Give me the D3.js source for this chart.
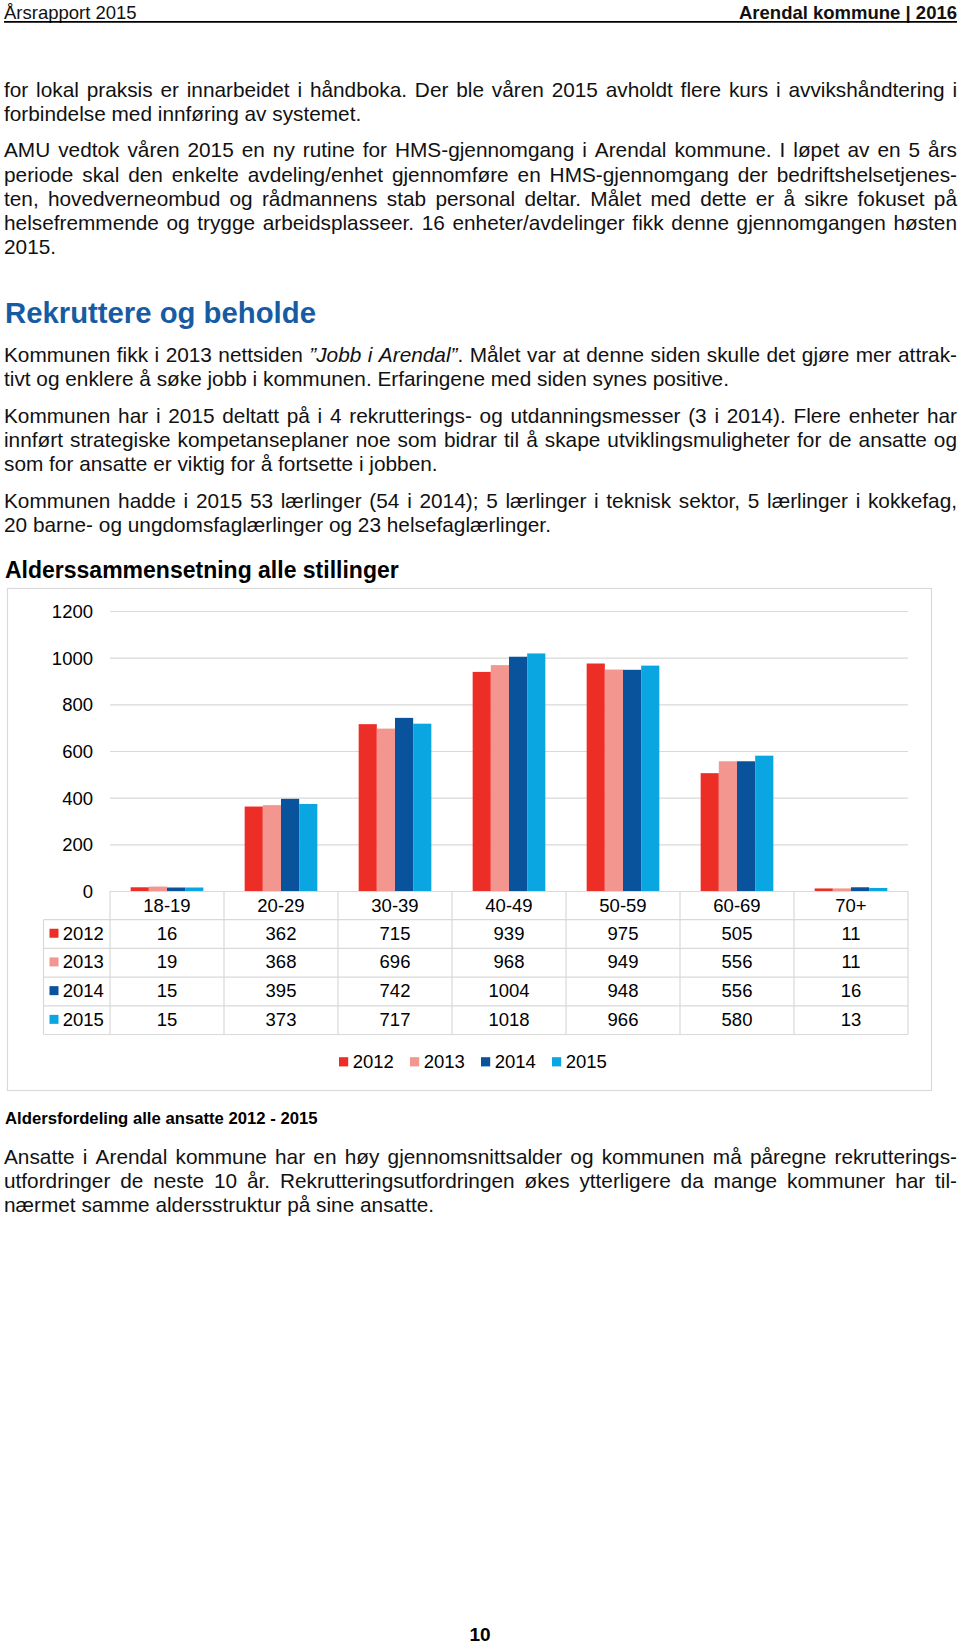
<!DOCTYPE html>
<html>
<head>
<meta charset="utf-8">
<script src="https://cdn.jsdelivr.net/npm/d3@7"></script>
<style>
  html, body { margin: 0; padding: 0; background: #fff; }
  svg { display: block; font-family: "Liberation Sans", Arial, Helvetica, sans-serif; }
</style>
</head>
<body>
<div id="page"></div>
<script>
// ---------- DATA ----------
const categories = ["18-19", "20-29", "30-39", "40-49", "50-59", "60-69", "70+"];
const years = ["2012", "2013", "2014", "2015"];
const v2012 = [16, 362, 715, 939, 975, 505, 11];
const v2013 = [19, 368, 696, 968, 949, 556, 11];
const v2014 = [15, 395, 742, 1004, 948, 556, 16];
const v2015 = [15, 373, 717, 1018, 966, 580, 13];
const yTicks = [0, 200, 400, 600, 800, 1000, 1200];
const yearColors = ["#ec2e26", "#f3968f", "#08539c", "#0aa6e2"];

const chartTitle = "Alderssammensetning alle stillinger";
const caption = "Aldersfordeling alle ansatte 2012 - 2015";
const headerLeft = "Årsrapport 2015";
const headerRight = "Arendal kommune | 2016";
const heading = "Rekruttere og beholde";
const pageNumber = "10";

// text lines: [text, justified?]  (*...* = italic)
const para1 = [
  ["for lokal praksis er innarbeidet i håndboka. Der ble våren 2015 avholdt flere kurs i avvikshåndtering i", true],
  ["forbindelse med innføring av systemet.", false]
];
const para2 = [
  ["AMU vedtok våren 2015 en ny rutine for HMS-gjennomgang i Arendal kommune. I løpet av en 5 års", true],
  ["periode skal den enkelte avdeling/enhet gjennomføre en HMS-gjennomgang der bedriftshelsetjenes-", true],
  ["ten, hovedverneombud og rådmannens stab personal deltar. Målet med dette er å sikre fokuset på", true],
  ["helsefremmende og trygge arbeidsplasseer. 16 enheter/avdelinger fikk denne gjennomgangen høsten", true],
  ["2015.", false]
];
const para3 = [
  ["Kommunen fikk i 2013 nettsiden *”Jobb i Arendal”*. Målet var at denne siden skulle det gjøre mer attrak-", true],
  ["tivt og enklere å søke jobb i kommunen. Erfaringene med siden synes positive.", false]
];
const para4 = [
  ["Kommunen har i 2015 deltatt på i 4 rekrutterings- og utdanningsmesser (3 i 2014). Flere enheter har", true],
  ["innført strategiske kompetanseplaner noe som bidrar til å skape utviklingsmuligheter for de ansatte og", true],
  ["som for ansatte er viktig for å fortsette i jobben.", false]
];
const para5 = [
  ["Kommunen hadde i 2015 53 lærlinger (54 i 2014); 5 lærlinger i teknisk sektor, 5 lærlinger i kokkefag,", true],
  ["20 barne- og ungdomsfaglærlinger og 23 helsefaglærlinger.", false]
];
const para6 = [
  ["Ansatte i Arendal kommune har en høy gjennomsnittsalder og kommunen må påregne rekrutterings-", true],
  ["utfordringer de neste 10 år. Rekrutteringsutfordringen økes ytterligere da mange kommuner har til-", true],
  ["nærmet samme aldersstruktur på sine ansatte.", false]
];

// ---------- LAYOUT ----------
const W = 960, H = 1645;
const svg = d3.select("#page").append("svg").attr("width", W).attr("height", H);
svg.append("rect").attr("width", W).attr("height", H).attr("fill", "#fff");

const textLeft = 4, textRight = 957;
const bodySize = 20.8, lineH = 24.1;
const textColor = "#111";

// header
svg.append("text").attr("x", textLeft).attr("y", 19).attr("font-size", 18.5).attr("fill", textColor).text(headerLeft);
svg.append("text").attr("x", textRight).attr("y", 19).attr("text-anchor", "end").attr("font-size", 18.5)
  .attr("font-weight", "bold").attr("fill", textColor).text(headerRight);
svg.append("line").attr("x1", textLeft).attr("x2", textRight).attr("y1", 21.8).attr("y2", 21.8)
  .attr("stroke", "#000").attr("stroke-width", 1.8);

function parseWords(line) {
  let italic = false;
  return line.split(" ").map(w => {
    const pieces = []; let buf = "";
    for (const ch of w) {
      if (ch === "*") { if (buf) pieces.push({ t: buf, it: italic }); buf = ""; italic = !italic; }
      else buf += ch;
    }
    if (buf) pieces.push({ t: buf, it: italic });
    return pieces;
  });
}

function drawLine(line, justify, y, size) {
  const g = svg.append("g");
  const words = parseWords(line);
  const nodes = words.map(pieces => {
    const t = g.append("text").attr("y", y).attr("font-size", size).attr("fill", textColor);
    pieces.forEach(p => t.append("tspan").attr("font-style", p.it ? "italic" : "normal").text(p.t));
    return t;
  });
  const widths = nodes.map(t => t.node().getComputedTextLength());
  const total = d3.sum(widths);
  const gap = (justify && nodes.length > 1) ? (textRight - textLeft - total) / (nodes.length - 1) : size * 0.278;
  let x = textLeft;
  nodes.forEach((t, i) => { t.attr("x", x); x += widths[i] + gap; });
}

function drawPara(lines, firstBaseline) {
  lines.forEach((l, i) => drawLine(l[0], l[1], firstBaseline + i * lineH, bodySize));
}

drawPara(para1, 96.6);
drawPara(para2, 157.4);
svg.append("text").attr("x", 5).attr("y", 323.3).attr("font-size", 29.3).attr("font-weight", "bold")
  .attr("fill", "#175ca3").text(heading);
drawPara(para3, 361.6);
drawPara(para4, 422.6);
drawPara(para5, 507.6);

// ---------- CHART ----------
svg.append("text").attr("x", 5).attr("y", 578).attr("font-size", 23).attr("font-weight", "bold")
  .attr("fill", "#000").text(chartTitle);

const box = { left: 7.5, top: 588.5, right: 931.5, bottom: 1090.5 };
svg.append("rect").attr("x", box.left).attr("y", box.top)
  .attr("width", box.right - box.left).attr("height", box.bottom - box.top)
  .attr("fill", "#fff").attr("stroke", "#d9d9d9").attr("stroke-width", 1.2);

const plotL = 110, plotR = 908, plotT = 611, plotB = 891;
const chartFont = 18.5;
const gridColor = "#d9d9d9";

const x0 = d3.scaleBand().domain(categories).range([plotL, plotR]).paddingInner(0).paddingOuter(0);
const x1 = d3.scaleBand().domain(years).range([0, x0.bandwidth()]).paddingInner(0).paddingOuter(1.137);
const y = d3.scaleLinear().domain([0, 1200]).range([plotB, plotT]);
const color = d3.scaleOrdinal().domain(years).range(yearColors);
const seriesValues = [v2012, v2013, v2014, v2015];

// gridlines
const grid = svg.append("g").attr("transform", `translate(${plotL},0)`)
  .call(d3.axisLeft(y).tickValues(yTicks).tickSize(-(plotR - plotL)).tickFormat(""));
grid.select(".domain").remove();
grid.selectAll(".tick line").attr("stroke", gridColor).attr("stroke-width", 1.2);

// y labels
const yAxis = svg.append("g").attr("transform", `translate(${plotL},0)`)
  .call(d3.axisLeft(y).tickValues(yTicks).tickSize(0).tickPadding(17).tickFormat(d3.format("d")));
yAxis.select(".domain").remove();
yAxis.selectAll("text").attr("font-size", chartFont).attr("font-family", "Liberation Sans, Arial, sans-serif")
  .attr("fill", "#000").attr("dy", "0.35em");

// bars
const flat = [];
years.forEach((yr, si) => categories.forEach((c, ci) => flat.push({ year: yr, cat: c, v: seriesValues[si][ci] })));
svg.append("g").selectAll("rect").data(flat).join("rect")
  .attr("x", d => x0(d.cat) + x1(d.year))
  .attr("width", x1.bandwidth())
  .attr("y", d => y(d.v))
  .attr("height", d => y(0) - y(d.v))
  .attr("fill", d => color(d.year));

// data table
const rowH = 28.7;
const tableTop = y(0);
const tableLeft = 43.5;
const tableBottom = tableTop + rowH * 5;
const tg = svg.append("g");
// horizontal lines (rows)
for (let r = 1; r <= 5; r++) {
  tg.append("line").attr("x1", tableLeft).attr("x2", plotR)
    .attr("y1", tableTop + r * rowH).attr("y2", tableTop + r * rowH)
    .attr("stroke", gridColor).attr("stroke-width", 1.2);
}
// vertical lines
const vxs = categories.map(c => x0(c)).concat([plotR]);
vxs.forEach(vx => tg.append("line").attr("x1", vx).attr("x2", vx).attr("y1", tableTop).attr("y2", tableBottom)
  .attr("stroke", gridColor).attr("stroke-width", 1.2));
tg.append("line").attr("x1", tableLeft).attr("x2", tableLeft).attr("y1", tableTop + rowH).attr("y2", tableBottom)
  .attr("stroke", gridColor).attr("stroke-width", 1.2);

// category header
tg.selectAll("text.cat").data(categories).join("text").attr("class", "cat")
  .attr("x", d => x0(d) + x0.bandwidth() / 2).attr("y", tableTop + rowH / 2).attr("dy", "0.35em")
  .attr("text-anchor", "middle").attr("font-size", chartFont).attr("fill", "#000").text(d => d);

// rows
years.forEach((yr, si) => {
  const cy = tableTop + rowH * (si + 1) + rowH / 2 - 0.8;
  tg.append("rect").attr("x", 49.5).attr("y", cy - 4.5).attr("width", 9).attr("height", 9).attr("fill", color(yr));
  tg.append("text").attr("x", 62.7).attr("y", cy).attr("dy", "0.35em").attr("font-size", chartFont)
    .attr("fill", "#000").text(yr);
  tg.selectAll(null).data(categories).join("text")
    .attr("x", d => x0(d) + x0.bandwidth() / 2).attr("y", cy).attr("dy", "0.35em")
    .attr("text-anchor", "middle").attr("font-size", chartFont).attr("fill", "#000")
    .text((d, ci) => seriesValues[si][ci]);
});

// legend
const legendY = 1061.8;
const legendX = d3.scaleBand().domain(years).range([339, 339 + 71 * 4]);
const lg = svg.append("g").selectAll("g").data(years).join("g")
  .attr("transform", d => `translate(${legendX(d)},${legendY})`);
lg.append("rect").attr("x", 0).attr("y", -4.6).attr("width", 9.2).attr("height", 9.2).attr("fill", d => color(d));
lg.append("text").attr("x", 13.7).attr("y", 0).attr("dy", "0.35em").attr("font-size", chartFont)
  .attr("fill", "#000").text(d => d);

// caption
svg.append("text").attr("x", 5).attr("y", 1124).attr("font-size", 16.7).attr("font-weight", "bold")
  .attr("fill", "#000").text(caption);

drawPara(para6, 1164);

// page number
svg.append("text").attr("x", 480).attr("y", 1641).attr("text-anchor", "middle").attr("font-size", 19)
  .attr("font-weight", "bold").attr("fill", "#000").text(pageNumber);
</script>
</body>
</html>
